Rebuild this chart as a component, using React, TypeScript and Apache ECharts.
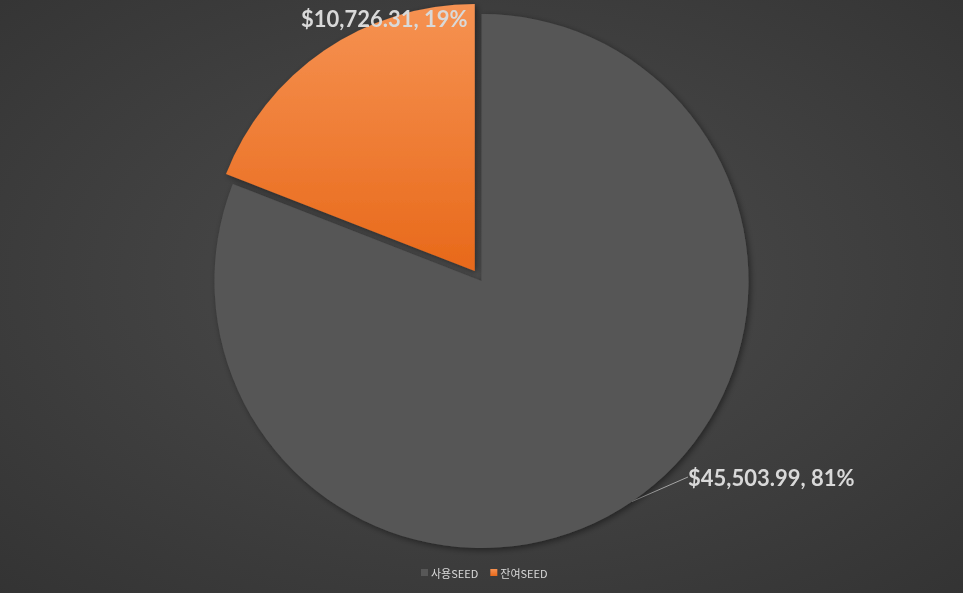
import React, { useEffect, useRef } from "react";
import * as echarts from "echarts";

const categories = ["사용SEED", "잔여SEED"];
const values = [45503.99, 10726.31];
const colors = ["#575757", "#f07c2a"];

export default function App() {
  const ref = useRef<HTMLDivElement>(null);
  useEffect(() => {
    document.body.style.margin = "0";
    const chart = echarts.init(ref.current!, null, { renderer: "svg" });
    const fmt = (v: number) =>
      "$" + v.toLocaleString("en-US", { minimumFractionDigits: 2, maximumFractionDigits: 2 });
    chart.setOption({
      animation: false,
      backgroundColor: new echarts.graphic.RadialGradient(0.5, 0.47, 1.0, [
        { offset: 0, color: "#4d4d4d" },
        { offset: 1, color: "#2a2a2a" },
      ]),
      legend: {
        data: categories,
        bottom: 10,
        left: 416,
        itemWidth: 7,
        itemHeight: 7,
        itemGap: 12,
        icon: "rect",
        textStyle: { color: "#d9d9d9", fontSize: 11, fontFamily: "Noto Sans CJK KR", padding: [0, 0, 0, -2] },
      },
      series: [
        {
          type: "pie",
          center: [481.5, 281],
          radius: 267,
          startAngle: 90,
          clockwise: true,
          selectedMode: "single",
          selectedOffset: 12,
          emphasis: { disabled: true },
          data: categories.map((name, i) => ({
            name,
            value: values[i],
            selected: i === 1,
            itemStyle: {
              color:
                i === 1
                  ? new echarts.graphic.LinearGradient(0, 0, 0, 1, [
                      { offset: 0, color: "#f69252" },
                      { offset: 1, color: "#e8691a" },
                    ])
                  : colors[i],
              shadowColor: "rgba(0,0,0,0.45)",
              shadowBlur: 6,
              shadowOffsetX: 2,
              shadowOffsetY: 2,
            },
            labelLine: { show: i === 0 },
            label: i === 1 ? { position: "center" } : undefined,
          })),
          label: {
            show: true,
            formatter: (p: any) => `${fmt(p.value)}, ${p.percent}%`,
            color: "#d9d9d9",
            fontSize: 22,
            fontWeight: "bold",
            fontFamily: "Lato",
          },
          percentPrecision: 0,
          labelLine: {
            show: true,
            length: 0,
            length2: 0,
            lineStyle: { color: "#a6a6a6", width: 1 },
          },
          labelLayout: (params: any) => {
            if (params.dataIndex === 1) return { dx: -90.5, dy: -253 };
            return { x: 688, y: 477, align: "left", verticalAlign: "middle" };
          },
        },
      ],
    });
    return () => chart.dispose();
  }, []);
  return <div ref={ref} style={{ position: "fixed", left: 0, top: 0, width: 963, height: 593 }} />;
}
